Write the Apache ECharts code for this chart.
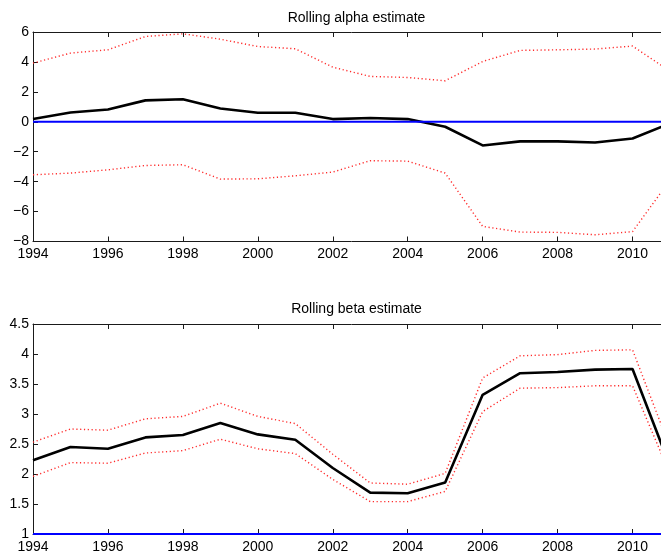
<!DOCTYPE html>
<html>
<head>
<meta charset="utf-8">
<script src="https://cdn.jsdelivr.net/npm/echarts@6/dist/echarts.min.js"></script>
<style>
html,body{margin:0;padding:0;background:#fff;overflow:hidden;width:661px;height:555px;}
#chart{width:670px;height:555px;}
</style>
</head>
<body>
<div id="chart"></div>
<script>
const years = [1994,1995,1996,1997,1998,1999,2000,2001,2002,2003,2004,2005,2006,2007,2008,2009,2010,2011];
const alpha = [0.18,0.62,0.82,1.43,1.51,0.89,0.60,0.60,0.18,0.25,0.18,-0.33,-1.58,-1.31,-1.31,-1.38,-1.12,-0.11];
const alphaUpper = [3.92,4.59,4.81,5.70,5.88,5.52,5.03,4.88,3.65,3.03,2.96,2.74,4.03,4.77,4.81,4.86,5.06,3.38];
const alphaLower = [-3.54,-3.43,-3.21,-2.92,-2.87,-3.83,-3.81,-3.61,-3.36,-2.60,-2.63,-3.43,-6.99,-7.37,-7.39,-7.55,-7.34,-3.90];
const alphaRef = [0,0];
const beta = [2.23,2.45,2.42,2.61,2.65,2.85,2.66,2.57,2.10,1.69,1.68,1.86,3.32,3.68,3.70,3.74,3.75,2.13];
const betaUpper = [2.53,2.75,2.73,2.92,2.96,3.18,2.96,2.84,2.33,1.85,1.83,2.01,3.60,3.97,3.99,4.06,4.07,2.44];
const betaLower = [1.96,2.19,2.18,2.35,2.39,2.58,2.42,2.34,1.91,1.54,1.54,1.71,3.04,3.43,3.44,3.47,3.47,2.00];
const betaRef = [1,1];
const titles = ['Rolling alpha estimate','Rolling beta estimate'];

const FONT = 'Liberation Sans';
const AXC = '#1a1a1a';
const pairs = (arr) => arr.map((v,i)=>[years[i], v]);
const refPairs = (arr) => [[years[0], arr[0]], [years[years.length-1], arr[1]]];

function xAx(grid, pos){
  return {
    type:'value', gridIndex:grid, position:pos, min:1994, max:2011, interval:2,
    axisLine:{show:true, onZero:false, lineStyle:{color:AXC, width:1}},
    axisTick:{show:true, inside:true, length:5, lineStyle:{color:AXC}},
    axisLabel:{show:pos==='bottom', showMaxLabel:false, margin:6, color:'#000', fontSize:14, fontFamily:FONT, formatter:(v)=>String(v)},
    splitLine:{show:false}
  };
}
function yAx(grid, min, max, interval){
  return {
    type:'value', gridIndex:grid, min:min, max:max, interval:interval,
    axisLine:{show:true, onZero:false, lineStyle:{color:AXC, width:1}},
    axisTick:{show:true, inside:true, length:5, lineStyle:{color:AXC}},
    axisLabel:{show:true, margin:4, color:'#000', fontSize:14, fontFamily:FONT, formatter:(v)=>String(v).replace('-','\u2212')},
    splitLine:{show:false}
  };
}
function est(xi, yi, arr){
  return {type:'line', xAxisIndex:xi, yAxisIndex:yi, data:pairs(arr), symbol:'none', z:3,
    lineStyle:{color:'#000', width:2.6}};
}
function band(xi, yi, arr){
  return {type:'line', xAxisIndex:xi, yAxisIndex:yi, data:pairs(arr), symbol:'none', z:2,
    lineStyle:{color:'#ff2a2a', width:1.4, type:[1.2,2.6]}};
}
function ref(xi, yi, arr){
  return {type:'line', xAxisIndex:xi, yAxisIndex:yi, data:refPairs(arr), symbol:'none', z:4, clip:false,
    lineStyle:{color:'#0000ff', width:2}};
}

const chart = echarts.init(document.getElementById('chart'), null, {renderer:'canvas'});
chart.setOption({
  animation:false,
  backgroundColor:'#fff',
  title:[
    {text:titles[0], left:351.5, top:6, textAlign:'center', textStyle:{fontSize:14, fontWeight:'normal', color:'#000', fontFamily:FONT}},
    {text:titles[1], left:351.5, top:297, textAlign:'center', textStyle:{fontSize:14, fontWeight:'normal', color:'#000', fontFamily:FONT}}
  ],
  grid:[
    {left:33, top:32, width:637, height:209.5},
    {left:33, top:324, width:637, height:210}
  ],
  xAxis:[xAx(0,'bottom'), xAx(0,'top'), xAx(1,'bottom'), xAx(1,'top')],
  yAxis:[yAx(0,-8,6,2), yAx(1,1,4.5,0.5)],
  series:[
    band(0,0,alphaUpper), band(0,0,alphaLower), est(0,0,alpha), ref(0,0,alphaRef),
    band(2,1,betaUpper), band(2,1,betaLower), est(2,1,beta), ref(2,1,betaRef)
  ]
});
</script>
</body>
</html>
